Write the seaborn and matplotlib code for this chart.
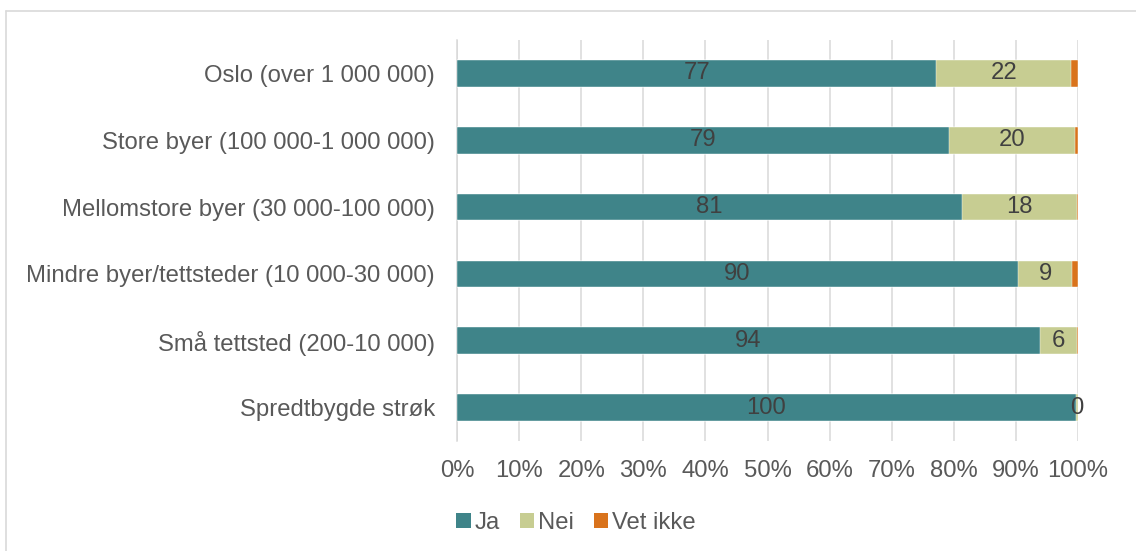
import matplotlib
matplotlib.use("Agg")
import matplotlib.pyplot as plt
from matplotlib.patches import Patch
from matplotlib.lines import Line2D
from matplotlib.ticker import PercentFormatter
import numpy as np
import pandas as pd
import seaborn as sns

categories = [
    "Oslo (over 1 000 000)",
    "Store byer (100 000-1 000 000)",
    "Mellomstore byer (30 000-100 000)",
    "Mindre byer/tettsteder (10 000-30 000)",
    "Små tettsted (200-10 000)",
    "Spredtbygde strøk",
]
ja = [77.2, 79.3, 81.4, 90.3, 93.9, 99.6]
nei = [21.7, 20.2, 18.4, 8.8, 5.9, 0.4]
vet_ikke = [1.1, 0.5, 0.2, 0.9, 0.2, 0.0]
series_names = ["Ja", "Nei", "Vet ikke"]
colors = ["#3F8489", "#C7CD92", "#D9731C"]
x_ticks = [0, 10, 20, 30, 40, 50, 60, 70, 80, 90, 100]

sns.set_theme(style="white")
plt.rcParams["font.family"] = ["Liberation Sans", "DejaVu Sans"]

text_grey = "#595959"
label_grey = "#404040"
grid_grey = "#D9D9D9"
fs = 17.2

df = pd.DataFrame({"kategori": categories, "Ja": ja, "Nei": nei, "Vet ikke": vet_ikke})
df["cum_ja"] = df["Ja"]
df["cum_nei"] = df["Ja"] + df["Nei"]
df["cum_vet"] = df["cum_nei"] + df["Vet ikke"]

fig = plt.figure(figsize=(11.36, 5.51), dpi=100)
ax = fig.add_axes([457 / 1136, 1 - 441 / 551, 621 / 1136, 401 / 551])

# Stacked bars drawn as overlapping cumulative totals, widest first
for col, color in zip(["cum_vet", "cum_nei", "cum_ja"], colors[::-1]):
    sns.barplot(data=df, x=col, y="kategori", order=categories, color=color,
                orient="h", width=0.4, edgecolor="white", linewidth=0.3,
                saturation=1, ax=ax, zorder=3)

# Value labels in the middle of the Ja and Nei segments
for i, row in df.iterrows():
    ax.text(row["Ja"] / 2, i, f"{row['Ja']:.0f}", ha="center", va="center",
            fontsize=fs, color=label_grey, zorder=4)
    ax.text(row["Ja"] + row["Nei"] / 2, i, f"{row['Nei']:.0f}", ha="center",
            va="center", fontsize=fs, color=label_grey, zorder=4)

ax.set_xlim(0, 100)
ax.set_ylim(5.5, -0.5)
ax.set_xticks(x_ticks)
ax.xaxis.set_major_formatter(PercentFormatter(decimals=0))
ax.set_xlabel("")
ax.set_ylabel("")
ax.grid(axis="x", color=grid_grey, linewidth=1.1, zorder=0)
ax.grid(axis="y", visible=False)
for side in ["top", "right", "bottom"]:
    ax.spines[side].set_visible(False)
ax.spines["left"].set_color(grid_grey)
ax.spines["left"].set_linewidth(1.1)
ax.tick_params(axis="x", length=0, pad=14, labelsize=fs, labelcolor=text_grey)
ax.tick_params(axis="y", length=0, pad=16, labelsize=fs, labelcolor=text_grey)

handles = [Patch(facecolor=c, edgecolor="none") for c in colors]
fig.legend(handles, series_names, loc="center", bbox_to_anchor=(576 / 1136, 1 - 523 / 551),
           ncol=3, frameon=False, fontsize=fs, handlelength=0.6, handleheight=0.6,
           handletextpad=0.15, columnspacing=0.85, labelcolor=text_grey)

# Outer chart frame
fig.add_artist(Line2D([6 / 1136, 6 / 1136], [0, 1 - 11 / 551], color=grid_grey,
                      linewidth=1.2, transform=fig.transFigure))
fig.add_artist(Line2D([6 / 1136, 1], [1 - 11 / 551, 1 - 11 / 551], color=grid_grey,
                      linewidth=1.2, transform=fig.transFigure))

fig.savefig("out.png", dpi=100)
